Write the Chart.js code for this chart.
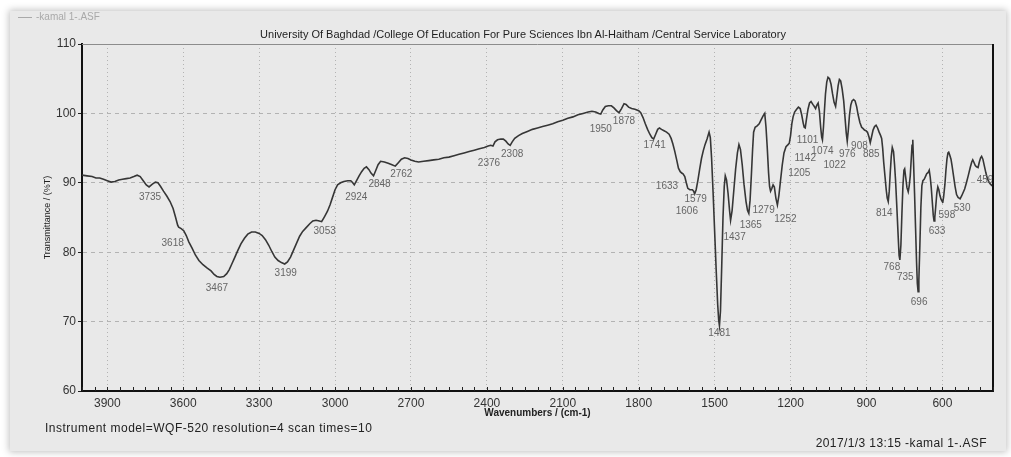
<!DOCTYPE html>
<html>
<head>
<meta charset="utf-8">
<title>FTIR spectrum - kamal 1</title>
<script src="https://cdn.jsdelivr.net/npm/chart.js@4/dist/chart.umd.min.js"></script>
<style>
  html, body { margin: 0; padding: 0; background: #ffffff; width: 1011px; height: 457px; overflow: hidden;
               font-family: "Liberation Sans", Arial, sans-serif; }
  #panel { position: absolute; left: 10px; top: 11px; width: 996px; height: 440px; background: #e9e9e9;
           box-shadow: 0 0 7px 1px rgba(0,0,0,0.25); }
  #wrap { position: absolute; left: 0; top: 0; width: 1011px; height: 457px; }
  .txt { position: absolute; white-space: nowrap; line-height: 1; }
  #legend { left: 18px; top: 12px; color: #a9a9a9; font-size: 10px; }
  #legend span { display: inline-block; width: 14px; border-top: 1px solid #a9a9a9; vertical-align: middle; margin-right: 4px; }
  #title { left: 523px; top: 29px; transform: translateX(-50%); color: #1e1e1e; font-size: 11px; }
  #instrument { left: 45px; top: 422px; color: #222; font-size: 12px; letter-spacing: 0.5px; }
  #stamp { right: 24px; top: 437px; color: #222; font-size: 12px; letter-spacing: 0.4px; }
</style>
</head>
<body>
<div id="panel"></div>
<div id="wrap"><canvas id="c" width="1011" height="457"></canvas></div>
<div class="txt" id="legend"><span></span>-kamal 1-.ASF</div>
<div class="txt" id="title">University Of Baghdad /College Of Education For Pure Sciences Ibn Al-Haitham /Central Service Laboratory</div>
<div class="txt" id="instrument">Instrument model=WQF-520 resolution=4 scan times=10</div>
<div class="txt" id="stamp">2017/1/3 13:15 -kamal 1-.ASF</div>
<script>
// Spectrum: wavenumber (cm-1) and transmittance (%T)
const wavenumbers = [
  4000,3980,3960,3945,3930,3915,3900,3885,3870,3855,3840,3825,3810,3795,3782,3770,3758,3746,3735,3722,
  3710,3700,3690,3678,3665,3652,3640,3630,3622,3618,3608,3598,3588,3578,3565,3552,3538,3522,3505,3490,
  3478,3467,3455,3440,3428,3418,3408,3398,3385,3372,3358,3345,3330,3315,3300,3288,3275,3262,3250,3238,
  3225,3212,3199,3188,3176,3164,3152,3140,3128,3115,3100,3088,3075,3062,3053,3042,3030,3020,3010,3000,
  2990,2978,2965,2950,2938,2930,2924,2915,2905,2895,2885,2876,2866,2858,2848,2840,2830,2820,2805,2790,
  2775,2762,2750,2738,2725,2712,2700,2685,2670,2650,2630,2610,2590,2570,2550,2530,2510,2490,2470,2450,
  2430,2410,2395,2385,2376,2368,2358,2345,2335,2325,2316,2308,2300,2290,2275,2260,2240,2220,2200,2180,
  2160,2140,2120,2100,2080,2060,2040,2020,2000,1985,1970,1958,1950,1942,1932,1920,1908,1898,1888,1878,
  1868,1858,1850,1840,1828,1815,1800,1792,1783,1774,1765,1756,1748,1741,1733,1725,1718,1710,1700,1690,
  1680,1672,1665,1658,1650,1643,1636,1633,1625,1618,1612,1606,1598,1588,1583,1579,1573,1566,1559,1552,
  1545,1538,1530,1522,1517,1512,1506,1500,1494,1488,1484,1481,1477,1472,1467,1462,1458,1453,1447,1441,
  1437,1431,1424,1417,1410,1404,1398,1391,1384,1376,1370,1365,1360,1355,1350,1346,1340,1332,1324,1316,
  1309,1302,1297,1292,1287,1283,1279,1274,1269,1264,1258,1252,1246,1240,1233,1226,1218,1210,1205,1200,
  1195,1190,1184,1176,1169,1162,1156,1150,1146,1142,1137,1131,1125,1119,1112,1106,1101,1096,1091,1086,
  1081,1077,1074,1070,1066,1062,1057,1052,1046,1040,1034,1028,1022,1017,1012,1007,1002,996,990,985,
  980,976,972,967,962,957,951,945,939,933,926,919,913,908,902,896,890,885,880,874,
  868,862,856,850,844,840,836,832,827,822,818,814,810,806,802,798,793,789,785,780,
  775,771,768,764,760,756,752,749,745,740,735,731,727,723,720,717,714,710,706,702,
  699,696,693,689,685,681,677,672,667,662,656,652,648,644,640,636,633,630,626,622,
  618,614,610,605,602,598,595,590,586,582,578,575,571,566,562,556,550,544,538,534,
  530,524,518,512,505,498,490,484,480,476,470,465,459,454,449,445,440,434,428,422,
  416,410,404,400
];
const transmittance = [
  91.1,91.0,90.9,90.7,90.7,90.5,90.3,90.1,90.2,90.4,90.5,90.6,90.7,90.9,91.1,90.9,90.3,89.7,89.4,89.8,
  90.1,90.0,89.5,88.8,88.1,87.3,86.3,85.0,83.9,83.6,83.4,83.1,82.4,81.5,80.6,79.6,78.8,78.2,77.7,77.3,
  76.8,76.5,76.4,76.5,76.9,77.5,78.3,79.1,80.2,81.2,82.0,82.6,82.9,82.9,82.7,82.4,81.8,81.0,80.1,79.3,
  78.8,78.5,78.3,78.6,79.3,80.3,81.3,82.3,83.0,83.5,84.1,84.5,84.6,84.5,84.4,85.1,85.9,86.8,87.9,89.0,
  89.7,90.0,90.2,90.3,90.3,90.0,89.7,90.3,91.0,91.6,92.1,92.3,91.9,91.4,91.0,91.7,92.6,93.1,93.0,92.8,
  92.6,92.4,92.9,93.4,93.6,93.5,93.3,93.1,93.0,93.1,93.2,93.3,93.4,93.6,93.7,93.9,94.1,94.3,94.5,94.7,
  94.9,95.1,95.3,95.4,95.3,95.9,96.2,96.3,96.3,96.0,95.6,95.4,95.9,96.4,96.8,97.1,97.4,97.7,97.9,98.1,
  98.3,98.5,98.8,99.0,99.3,99.5,99.8,100.0,100.2,100.3,100.2,100.0,99.9,100.5,101.0,101.1,101.1,100.8,100.4,100.1,
  100.7,101.4,101.3,100.9,100.7,100.6,100.4,100.1,99.4,98.5,97.7,97.0,96.5,96.3,97.0,97.7,97.9,97.7,97.5,97.3,
  97.0,96.4,95.6,94.6,93.3,92.1,91.6,91.5,91.3,90.9,90.0,89.2,89.0,89.0,88.8,88.4,89.0,90.4,92.0,93.5,
  94.6,95.5,96.3,97.3,96.5,93.5,88.5,83.0,77.5,72.5,70.2,69.4,71.5,78.0,85.0,89.5,91.0,90.4,88.5,86.0,
  84.6,86.0,89.0,92.0,94.3,95.5,94.8,92.6,89.8,87.3,86.0,85.6,87.5,91.0,94.8,97.3,98.0,98.2,98.5,99.1,
  99.6,100.0,98.0,95.0,91.5,89.5,88.8,89.2,89.7,89.4,87.8,86.8,88.2,90.2,92.5,94.3,95.2,95.5,95.7,96.8,
  98.5,99.5,100.2,100.6,100.9,100.7,99.8,98.6,98.0,97.9,99.2,100.6,101.5,101.7,101.3,101.0,100.7,101.2,101.5,100.3,
  98.0,96.6,96.2,98.0,100.5,102.8,104.5,105.2,105.0,104.2,102.8,101.6,101.0,102.5,104.0,104.9,104.7,103.5,101.8,99.5,
  97.2,96.0,97.5,99.8,101.2,101.8,102.0,101.8,101.0,99.8,98.7,98.0,97.8,97.6,97.5,97.3,96.6,95.8,96.6,97.6,
  98.1,98.3,97.9,97.3,96.8,96.4,95.0,93.0,91.0,89.0,87.8,87.3,88.8,91.5,93.8,95.1,94.5,92.6,90.3,86.5,
  82.5,79.5,78.9,81.0,85.5,89.5,91.8,92.0,90.8,89.3,88.7,89.6,91.0,93.5,95.4,96.2,93.0,88.5,83.5,78.5,
  75.5,74.3,76.0,81.0,86.5,89.6,90.3,90.5,90.9,91.3,91.5,91.8,90.8,89.3,87.3,85.3,84.5,85.0,86.7,88.5,
  89.4,89.0,88.2,87.6,87.4,87.3,88.0,89.8,91.8,93.4,94.3,94.4,94.0,93.4,92.5,91.0,89.5,88.3,87.9,87.8,
  87.7,88.1,88.6,89.1,90.0,91.0,92.2,93.0,93.3,93.0,92.5,92.3,92.2,93.0,93.6,93.8,93.4,92.4,91.4,90.6,
  90.1,89.8,89.6,89.5
];

// Marked absorption bands (cm-1)
const peakWavenumbers = [
  3735,3618,3467,3199,3053,2924,2848,2762,2376,2308,1950,1878,1741,1633,1606,1579,1481,1437,1365,1279,
  1252,1205,1142,1101,1074,1022,976,908,885,814,768,735,696,633,598,530,459
];

// Axis tick values
const xTickValues = [3900, 3600, 3300, 3000, 2700, 2400, 2100, 1800, 1500, 1200, 900, 600];
const yTickValues = [60, 70, 80, 90, 100, 110];

// Label placement: pixel offset of each band label from its point on the curve
const peakLabelOffsets = [
  [1,10],[-6,16],[0,12],[1,9],[3,10],[2,12],[6,8],[6,8],[-4,17],[2,9],[0,15],[5,9],[1,6],[-14,14],[-1,23],[1,5],
  [0,7],[4,17],[2,12],[-7,19],[8,14],[10,30],[0,30],[-8,32],[0,11],[-1,59],[0,13],[-5,16],[1,12],[-4,12],
  [-8,7],[-3,85],[1,10],[3,10],[4,14],[2,9],[7,13]
];

const FONT = '"Liberation Sans", Arial, sans-serif';

const spectrumDecor = {
  id: 'spectrumDecor',
  afterDatasetsDraw(chart) {
    const { ctx, chartArea: a, scales: { x, y } } = chart;
    ctx.save();
    ctx.beginPath();
    ctx.rect(a.left, a.top, a.right - a.left, a.bottom - a.top);
    ctx.clip();
    ctx.font = '10px ' + FONT;
    ctx.fillStyle = '#666666';
    ctx.textAlign = 'center';
    ctx.textBaseline = 'middle';
    peakWavenumbers.forEach((wn, i) => {
      const t = transmittance[wavenumbers.indexOf(wn)];
      const [dx, dy] = peakLabelOffsets[i];
      ctx.fillText(String(wn), x.getPixelForValue(wn) + dx, y.getPixelForValue(t) + dy);
    });
    ctx.restore();
  },
  afterDraw(chart) {
    const { ctx, chartArea: a, scales: { x } } = chart;
    ctx.save();
    // top edge
    ctx.strokeStyle = '#8c8c8c';
    ctx.lineWidth = 1;
    ctx.beginPath();
    ctx.moveTo(a.left, a.top + 0.5);
    ctx.lineTo(a.right, a.top + 0.5);
    ctx.stroke();
    // right edge
    ctx.strokeStyle = '#111';
    ctx.lineWidth = 2;
    ctx.beginPath();
    ctx.moveTo(a.right, a.top);
    ctx.lineTo(a.right, a.bottom + 1);
    ctx.stroke();
    // inward minor ticks every 50 cm-1 on the wavenumber axis
    ctx.lineWidth = 1;
    ctx.strokeStyle = '#222';
    ctx.beginPath();
    for (let wn = 4000; wn >= 400; wn -= 50) {
      const px = Math.round(x.getPixelForValue(wn)) + 0.5;
      ctx.moveTo(px, a.bottom);
      ctx.lineTo(px, a.bottom - 4);
    }
    ctx.stroke();
    ctx.restore();
  }
};

new Chart(document.getElementById('c'), {
  type: 'line',
  data: {
    datasets: [{
      label: '-kamal 1-.ASF',
      data: wavenumbers.map((w, i) => ({ x: w, y: transmittance[i] })),
      borderColor: '#363636',
      borderWidth: 1.6,
      pointRadius: 0,
      tension: 0,
      fill: false
    }]
  },
  options: {
    responsive: false,
    animation: false,
    events: [],
    layout: { padding: { left: 0, right: 18, top: 44, bottom: 0 } },
    plugins: { legend: { display: false }, tooltip: { enabled: false } },
    scales: {
      x: {
        type: 'linear',
        reverse: true,
        min: 400,
        max: 4000,
        afterBuildTicks: s => { s.ticks = xTickValues.map(v => ({ value: v })); },
        afterFit: s => { s.height = 66; },
        ticks: { color: '#333', font: { family: FONT, size: 12 }, padding: 5, maxRotation: 0, autoSkip: false,
                 callback: v => String(v) },
        grid: { color: '#b3b3b3', lineWidth: 1, drawTicks: false },
        border: { display: true, color: '#111', width: 2, dash: [1, 3] },
        title: { display: true, text: 'Wavenumbers / (cm-1)', color: '#222',
                 font: { family: FONT, size: 10, weight: 'bold' }, padding: { top: 0, bottom: 38 } }
      },
      y: {
        min: 60,
        max: 110,
        afterBuildTicks: s => { s.ticks = yTickValues.map(v => ({ value: v })); },
        afterFit: s => { s.width = 82; },
        ticks: { color: '#333', font: { family: FONT, size: 12 }, padding: 2, callback: v => String(v) },
        grid: {
          color: c => (c.tick && (c.tick.value === 60 || c.tick.value === 110)) ? 'rgba(0,0,0,0)' : '#b3b3b3',
          tickColor: '#222',
          tickLength: 4,
          lineWidth: 1
        },
        border: { display: true, color: '#111', width: 2, dash: [4, 4] },
        title: { display: true, text: 'Transmittance / (%T)', color: '#222',
                 font: { family: FONT, size: 9 }, padding: { top: 42, bottom: 0 } }
      }
    }
  },
  plugins: [spectrumDecor]
});
</script>
</body>
</html>
